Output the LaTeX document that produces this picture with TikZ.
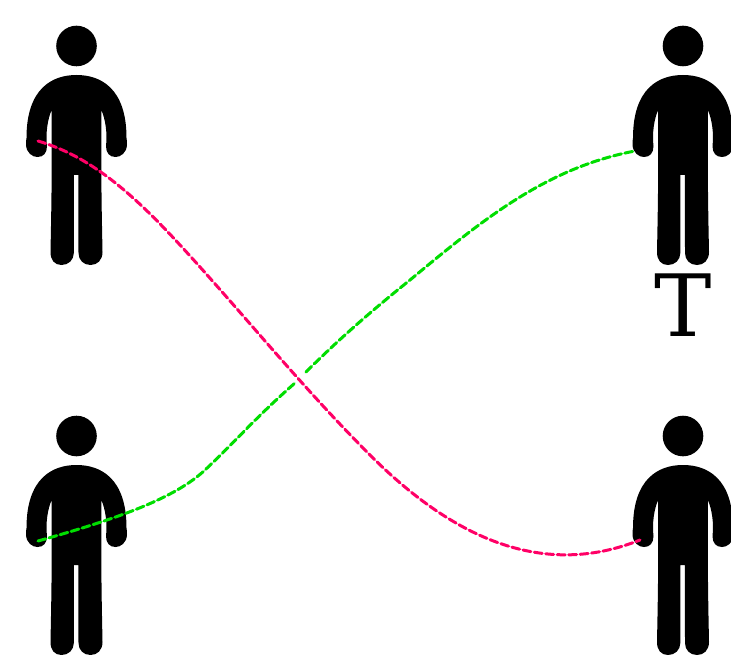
\documentclass[tikz,border=0pt]{standalone}
\usepackage{fontspec}
\setmainfont{DejaVu Serif}
\tikzset{
  person/.pic={
    \fill (0,0) circle (20.3);
    \fill (0,29)
      .. controls (24,29) and (50,42) .. (50,92)
      .. controls (50.6,94) and (50.5,97) .. (50.5,98)
      .. controls (50.5,107) and (44,111) .. (39,111)
      .. controls (33,111) and (29.5,107) .. (29.5,100)
      .. controls (31,88) and (29,73) .. (24.8,64)
      -- (24.8,110)
      .. controls (24.8,150) and (25.5,180) .. (26,206)
      .. controls (26,214) and (21,219) .. (14,219)
      .. controls (7,219) and (2,214) .. (2,207)
      -- (1.9,129) -- (-2.7,129) -- (-2.7,207)
      .. controls (-2.7,214) and (-8,219) .. (-15,219)
      .. controls (-22,219) and (-26,214) .. (-26,206)
      .. controls (-25.5,180) and (-24.8,150) .. (-24.8,110)
      -- (-24.8,64)
      .. controls (-29,73) and (-31,88) .. (-29.5,100)
      .. controls (-29.5,107) and (-33,111) .. (-39,111)
      .. controls (-44,111) and (-50.5,107) .. (-50.5,98)
      .. controls (-50.5,97) and (-50.6,94) .. (-50,92)
      .. controls (-50,42) and (-24,29) .. (0,29) -- cycle;
  },
  tie/.style={line width=3pt,line cap=round,line join=round,dash pattern=on 8pt off 3.5pt},
  redtie/.style={tie,draw=tiered},
  greentie/.style={tie,draw=tiegreen},
}
\definecolor{tiered}{HTML}{FF0066}
\definecolor{tiegreen}{HTML}{00DD00}
\begin{document}
\begin{tikzpicture}[x=1pt,y=-1pt]
\useasboundingbox (0,0) rectangle (731,655);
\pic (pa) at (76.5,46) {person};
\pic (pb) at (683,46) {person};
\pic (pc) at (76.5,436) {person};
\pic (pd) at (683,436) {person};
\node[inner sep=0pt,anchor=base,font=\fontsize{86pt}{86pt}\selectfont] (tlabel) at (683,336) {T};
\coordinate (ga) at (38,541);
\coordinate (gb) at (295,383);
\coordinate (gc) at (306,372);
\coordinate (gd) at (635,151);
\coordinate (ra) at (38,141);
\coordinate (rb) at (640,540);
\draw[greentie] (ga) .. controls (120,518) and (175,498) .. (205,470) .. controls (235,442) and (255,418) .. (gb);
\draw[greentie] (gc) .. controls (340,338) and (375,308) .. (410,280) .. controls (480,222) and (545,168) .. (gd);
\draw[redtie] (ra) .. controls (85,155) and (125,185) .. (180,245) .. controls (240,310) and (300,385) .. (370,455) .. controls (450,535) and (540,580) .. (rb);
\end{tikzpicture}
\end{document}
